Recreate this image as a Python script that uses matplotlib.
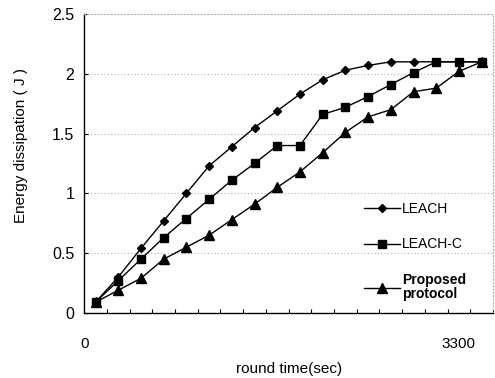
import matplotlib
matplotlib.use("Agg")
import matplotlib.pyplot as plt

plt.rcParams['font.family'] = ['Liberation Sans', 'DejaVu Sans']

# round time (sec) of each sample
rounds = [100, 300, 500, 700, 900, 1100, 1300, 1500, 1700,
          1900, 2100, 2300, 2500, 2700, 2900, 3100, 3300, 3500]

# energy dissipation (J)
leach = [0.09, 0.30, 0.54, 0.77, 1.00, 1.23, 1.39, 1.55, 1.69,
         1.83, 1.95, 2.03, 2.07, 2.10, 2.10, 2.10, 2.10, 2.10]
leach_c = [0.09, 0.27, 0.45, 0.63, 0.79, 0.95, 1.11, 1.25, 1.40,
           1.40, 1.66, 1.72, 1.81, 1.91, 2.01, 2.10, 2.10, 2.10]
proposed = [0.09, 0.19, 0.29, 0.45, 0.55, 0.65, 0.78, 0.91, 1.05,
            1.18, 1.34, 1.51, 1.64, 1.70, 1.85, 1.88, 2.02, 2.10]

x_tick_vals = [0, 3300]
x_tick_labels = ['0', '3300']
y_ticks = [0, 0.5, 1, 1.5, 2, 2.5]
y_tick_labels = ['0', '0.5', '1', '1.5', '2', '2.5']

fig = plt.figure(figsize=(4.95, 3.78), dpi=100)
ax = fig.add_axes([0.170, 0.172, 0.826, 0.791])

# dotted grid
for y in y_ticks[1:-1]:
    ax.axhline(y, color='#b0b0b0', linestyle=(0, (1, 2)), linewidth=0.8, zorder=0)

ax.plot(rounds, leach, color='black', linewidth=1.0, marker='D', markersize=4.5,
        label='LEACH', zorder=3)
ax.plot(rounds, leach_c, color='black', linewidth=1.0, marker='s', markersize=5.5,
        label='LEACH-C', zorder=3)
ax.plot(rounds, proposed, color='black', linewidth=1.0, marker='^', markersize=7.5,
        label='Proposed\nprotocol', zorder=3)

ax.set_xlim(0, 3600)
ax.set_ylim(0, 2.5)

ax.set_xticks(x_tick_vals)
ax.set_xticklabels(x_tick_labels, fontsize=11)
ax.set_xticks(range(0, 3601, 200), minor=True)
ax.tick_params(axis='x', which='major', length=0, pad=17)
ax.tick_params(axis='x', which='minor', direction='in', length=3, width=0.8)

ax.set_yticks(y_ticks)
ax.set_yticklabels(y_tick_labels, fontsize=11.5)
ax.tick_params(axis='y', direction='in', length=3, width=0.8, pad=7)

ax.set_xlabel('round time(sec)', fontsize=11)
ax.xaxis.set_label_coords(0.5, -0.165)
ax.set_ylabel('Energy dissipation ( J )', fontsize=11)
ax.yaxis.set_label_coords(-0.137, 0.56)

ax.spines['left'].set_linewidth(1.0)
ax.spines['bottom'].set_linewidth(1.0)
for side in ['top', 'right']:
    ax.spines[side].set_color('#b0b0b0')
    ax.spines[side].set_linestyle((0, (1, 2)))
    ax.spines[side].set_linewidth(0.8)

leg = ax.legend(loc='upper left', bbox_to_anchor=(0.67, 0.39), frameon=False,
                fontsize=10, handlelength=2.6, handletextpad=0.15,
                labelspacing=1.55, borderaxespad=0)
leg.get_texts()[2].set_fontweight('bold')
leg.get_texts()[2].set_linespacing(1.0)

fig.savefig('out.png', dpi=100)
